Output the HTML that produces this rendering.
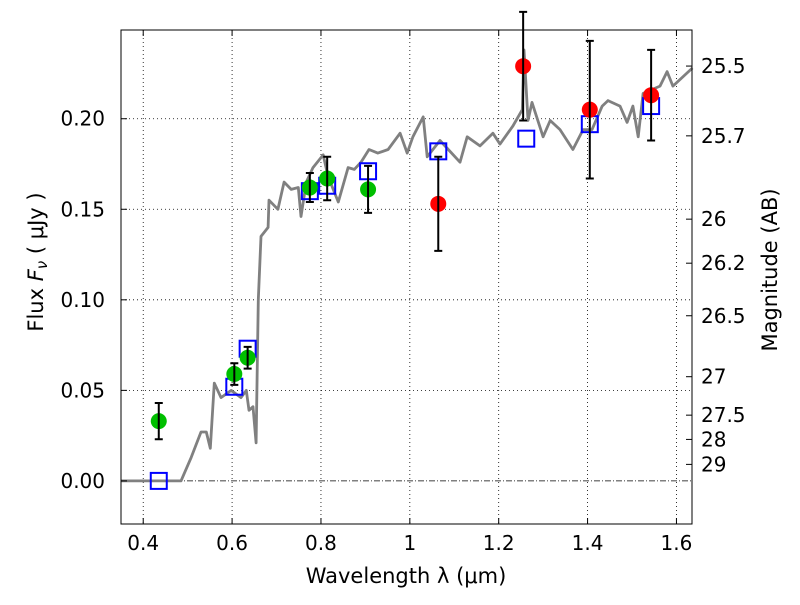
<!DOCTYPE html>
<html><head><meta charset="utf-8"><style>
body{margin:0;background:#fff;}
svg text{font-family:"DejaVu Sans","Liberation Sans",sans-serif;fill:#000;}
</style></head><body>
<svg id="chart" width="800" height="600" xmlns="http://www.w3.org/2000/svg">
<rect width="800" height="600" fill="#fff"/>
<g id="grid"></g>
<g id="spec"></g>
<g id="marks"></g>
<rect x="121" y="30" width="571" height="494" fill="none" stroke="#000" stroke-width="1"/>
<g id="axes"></g>
<text x="406" y="583" font-size="21" text-anchor="middle">Wavelength  λ (μm)</text>
<text transform="translate(43,262) rotate(-90)" font-size="21" text-anchor="middle">Flux  <tspan font-style="italic">F</tspan><tspan font-style="italic" font-size="15" dy="4">ν</tspan><tspan dy="-4">  ( μJy )</tspan></text>
<text transform="translate(777,270) rotate(-90)" font-size="21" text-anchor="middle">Magnitude (AB)</text>
</svg>
<script>
const xTicks=[0.4,0.6,0.8,1.0,1.2,1.4,1.6];
const xTickLabels=["0.4","0.6","0.8","1","1.2","1.4","1.6"];
const yTicks=[0,0.05,0.10,0.15,0.20];
const yTickLabels=["0.00","0.05","0.10","0.15","0.20"];
const magTicks=[25.5,25.7,26,26.2,26.5,27,27.5,28,29];
const magLabels=["25.5","25.7","26","26.2","26.5","27","27.5","28","29"];
const specLam=[0.35,0.485,0.508,0.530,0.542,0.551,0.560,0.575,0.598,0.620,0.632,0.638,0.647,0.654,0.659,0.665,0.681,0.683,0.703,0.717,0.733,0.749,0.755,0.767,0.782,0.805,0.816,0.839,0.861,0.875,0.890,0.908,0.928,0.951,0.978,0.994,1.007,1.030,1.039,1.068,1.113,1.129,1.158,1.187,1.203,1.232,1.253,1.257,1.266,1.275,1.300,1.316,1.338,1.367,1.390,1.410,1.433,1.446,1.473,1.489,1.502,1.514,1.525,1.563,1.579,1.592,1.636];
const specFlux=[0,0,0.013,0.027,0.027,0.018,0.054,0.046,0.050,0.046,0.050,0.039,0.041,0.021,0.100,0.135,0.140,0.155,0.150,0.165,0.161,0.162,0.146,0.165,0.173,0.180,0.168,0.154,0.173,0.172,0.176,0.183,0.181,0.183,0.192,0.181,0.190,0.201,0.179,0.188,0.176,0.190,0.185,0.192,0.186,0.196,0.205,0.238,0.199,0.209,0.190,0.199,0.194,0.183,0.194,0.194,0.207,0.210,0.207,0.198,0.207,0.190,0.214,0.218,0.226,0.218,0.228];
const greenLam=[0.435,0.605,0.635,0.775,0.814,0.906];
const greenFlux=[0.033,0.059,0.068,0.162,0.167,0.161];
const greenErr=[0.010,0.006,0.006,0.008,0.012,0.013];
const redLam=[1.064,1.255,1.405,1.543];
const redFlux=[0.153,0.229,0.205,0.213];
const redErr=[0.026,0.030,0.038,0.025];
const modelLam=[0.435,0.605,0.635,0.775,0.814,0.906,1.064,1.262,1.405,1.543];
const modelFlux=[0.0,0.052,0.073,0.160,0.163,0.171,0.182,0.189,0.197,0.207];

const L=121,R=692,T=30,B=524,X0=0.35,X1=1.635,Y0=-0.0238,Y1=0.249;
const sx=v=>L+(v-X0)/(X1-X0)*(R-L);
const sy=v=>B-(v-Y0)/(Y1-Y0)*(B-T);
const NS="http://www.w3.org/2000/svg";
function mk(tag,attrs,parent){const e=document.createElementNS(NS,tag);for(const k in attrs)e.setAttribute(k,attrs[k]);parent.appendChild(e);return e;}
const grid=document.getElementById('grid'),axes=document.getElementById('axes'),spec=document.getElementById('spec'),marks=document.getElementById('marks');
xTicks.forEach((v,i)=>{const x=sx(v);
 let g=mk('line',{x1:x,x2:x,y1:T,y2:B,stroke:'#000','stroke-dasharray':'1,3','stroke-width':0.8},grid);
 
 let t=mk('line',{x1:x,x2:x,y1:B,y2:B-6,stroke:'#000'},axes);
 
 let t2=mk('line',{x1:x,x2:x,y1:T,y2:T+6,stroke:'#000'},axes);
 
 let l=mk('text',{x:x,y:B+26,'font-size':20,'text-anchor':'middle'},axes);l.textContent=xTickLabels[i];
 });
yTicks.forEach((v,i)=>{const y=sy(v);
 if(v!==0){let g=mk('line',{x1:L,x2:R,y1:y,y2:y,stroke:'#000','stroke-dasharray':'1,3','stroke-width':0.8},grid);
 }
 let t=mk('line',{x1:L,x2:L+6,y1:y,y2:y,stroke:'#000'},axes);
 
 let l=mk('text',{x:L-16,y:y+7,'font-size':20,'text-anchor':'end'},axes);l.textContent=yTickLabels[i];
 });
let zl=mk('line',{x1:L,x2:R,y1:sy(0),y2:sy(0),stroke:'#000','stroke-dasharray':'6,2,1,2','stroke-width':0.7},grid);

magTicks.forEach((m,i)=>{const y=sy(Math.pow(10,(23.9-m)/2.5));
 let t=mk('line',{x1:R,x2:R-6,y1:y,y2:y,stroke:'#000'},axes);
 
 let l=mk('text',{x:R+9,y:y+7,'font-size':20},axes);l.textContent=magLabels[i];
 });
let pts=specLam.map((v,i)=>sx(v).toFixed(1)+','+sy(specFlux[i]).toFixed(1)).join(' ');
let sp=mk('polyline',{points:pts,fill:'none',stroke:'#808080','stroke-width':2.8,'stroke-linejoin':'round'},spec);

modelLam.forEach((v,i)=>{let r=mk('rect',{x:sx(v)-8,y:sy(modelFlux[i])-8,width:16,height:16,fill:'none',stroke:'#0000ff','stroke-width':2},marks);
 });
function pointsSet(lam,fl,err,col,name){lam.forEach((v,i)=>{const x=sx(v);
 let c=mk('circle',{cx:x,cy:sy(fl[i]),r:8,fill:col},marks);
 
 const y1=sy(fl[i]-err[i]),y2=sy(fl[i]+err[i]);
 let e=mk('path',{d:`M${x},${y1}V${y2}M${x-4},${y1}H${x+4}M${x-4},${y2}H${x+4}`,stroke:'#000','stroke-width':2,fill:'none'},marks);
 });}
pointsSet(greenLam,greenFlux,greenErr,'#00bf00','hst-photometry');
pointsSet(redLam,redFlux,redErr,'#ff0000','nir-photometry');
</script>
</body></html>
